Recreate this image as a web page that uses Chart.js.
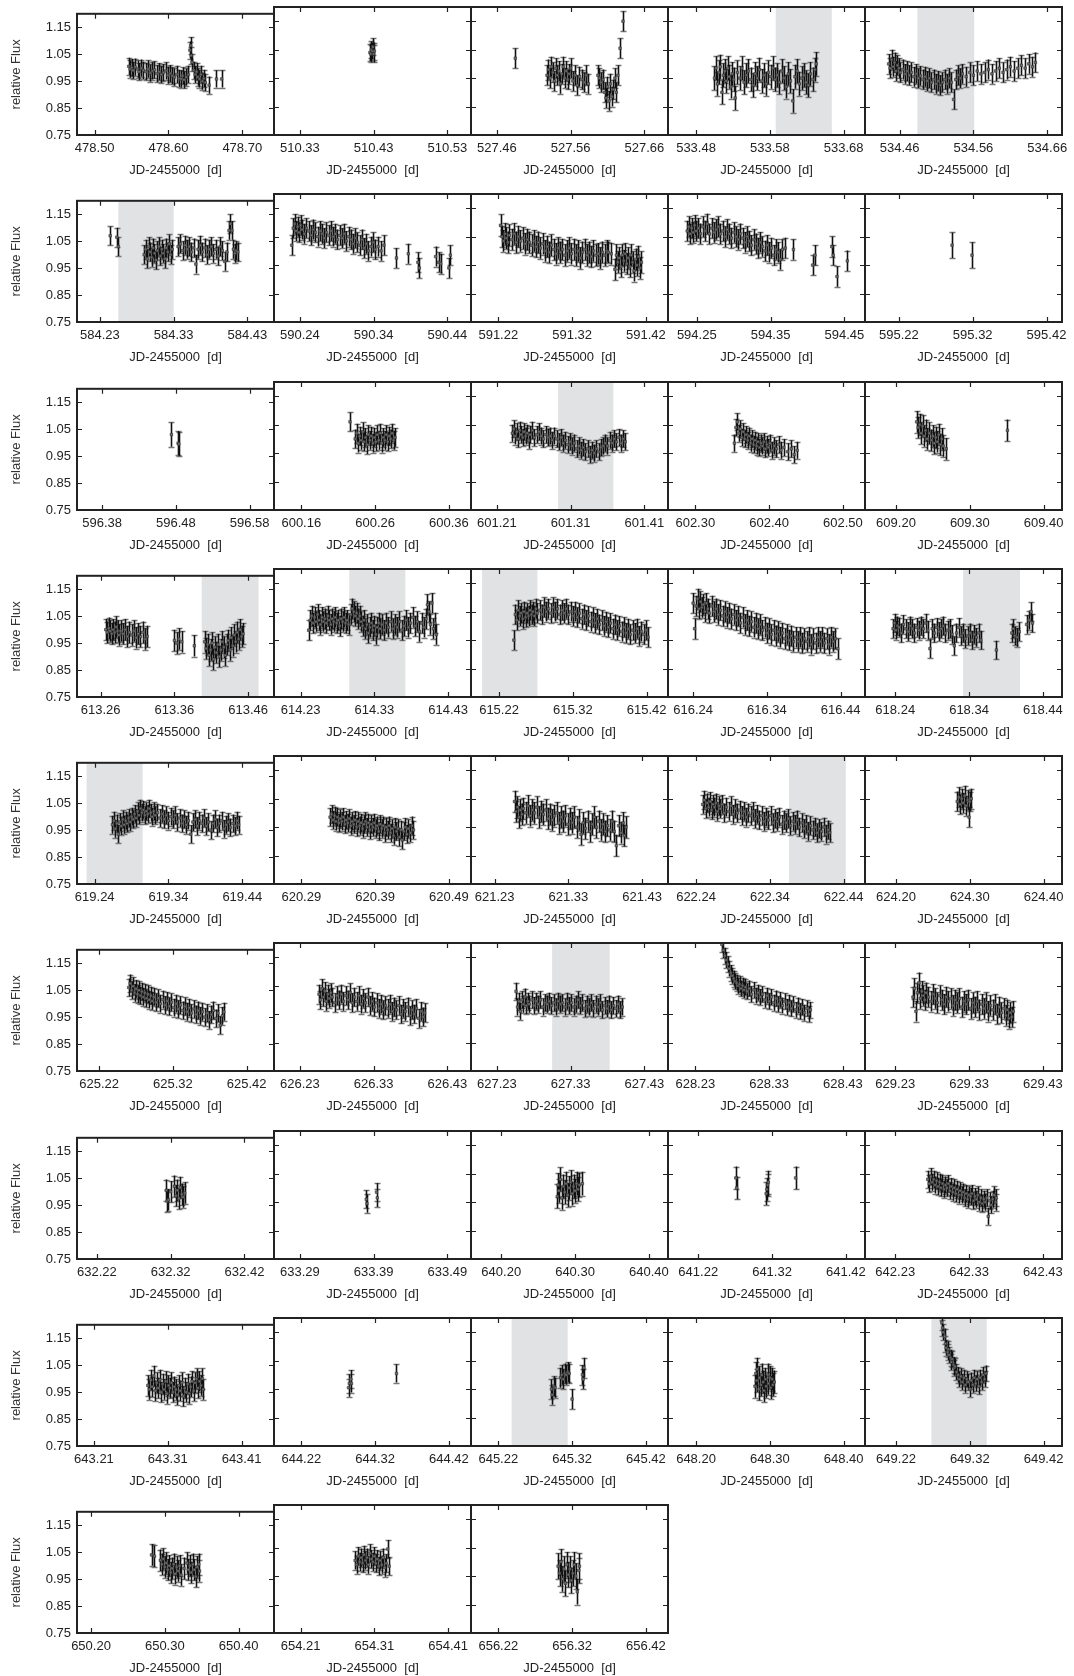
<!DOCTYPE html>
<html>
<head>
<meta charset="utf-8">
<script src="https://cdn.jsdelivr.net/npm/chart.js@4.4.1/dist/chart.umd.min.js"></script>
<style>
  html, body { margin: 0; padding: 0; background: #fff; }
  #wrap { position: relative; width: 1074px; height: 1676px; overflow: hidden; }
  #wrap canvas { position: absolute; }
</style>
</head>
<body>
<div id="wrap"></div>
<script>
// light curves, one per panel: [days after the first labelled tick, relative flux]
const lc01 = [[.046,1.005],[.048,.995],[.050,1.000],[.052,.990],[.055,1.002],[.058,.995],[.060,.985],[.063,.998],[.066,.990],[.069,.985],[.072,.995],[.075,.980],[.078,.988],[.081,.992],[.084,.978],[.087,.985],[.090,.975],[.093,.982],[.096,.988],[.099,.972],[.102,.978],[.105,.970],[.108,.965],[.111,.975],[.114,.960],[.117,.958],[.119,.970],[.121,.955],[.124,.965],[.127,.975],[.129,1.065],[.130,1.082],[.131,1.045],[.132,1.020],[.134,.990],[.136,.975],[.138,.985],[.140,.965],[.142,.958],[.144,.975],[.146,.950],[.148,.960],[.150,.945],[.155,.935],[.165,.958],[.172,.958]];
const lc02 = [[.095,1.040],[.096,1.035],[.097,1.050],[.098,1.045],[.099,1.060],[.100,1.035],[.101,1.045]];
const lc03 = [[.025,1.020],[.068,.960],[.070,.980],[.072,.950],[.074,.990],[.076,.970],[.078,.940],[.080,.985],[.082,.960],[.084,.975],[.086,.930],[.088,.965],[.090,.990],[.092,.950],[.094,.975],[.096,.945],[.098,.965],[.100,.985],[.103,.940],[.106,.960],[.109,.925],[.112,.955],[.115,.945],[.118,.935],[.121,.960],[.124,.930],[.137,.960],[.139,.950],[.141,.935],[.144,.945],[.146,.900],[.148,.880],[.150,.920],[.152,.870],[.154,.930],[.156,.885],[.158,.910],[.160,.950],[.162,.900],[.164,.960],[.167,1.055],[.171,1.150]];
const lc04 = [[.025,.950],[.027,.985],[.029,.930],[.031,.970],[.033,.990],[.035,.900],[.037,.960],[.039,.975],[.041,.940],[.043,.985],[.045,.955],[.047,.920],[.049,.965],[.051,.945],[.053,.880],[.056,.970],[.059,.950],[.062,.985],[.065,.935],[.068,.960],[.071,.975],[.074,.945],[.077,.925],[.080,.965],[.083,.950],[.086,.980],[.089,.940],[.092,.960],[.095,.930],[.098,.970],[.101,.955],[.104,.985],[.107,.945],[.110,.960],[.113,.935],[.116,.975],[.119,.950],[.122,.920],[.125,.965],[.128,.940],[.131,.870],[.134,.955],[.137,.975],[.140,.930],[.143,.950],[.146,.960],[.149,.935],[.152,.925],[.155,.965],[.158,.945],[.161,.980],[.163,1.000]];
const lc05 = [[-.015,1.000],[-.013,.985],[-.011,1.015],[-.009,.990],[-.007,1.005],[-.005,.975],[-.003,.995],[-.001,.985],[.001,.970],[.004,.980],[.007,.965],[.010,.975],[.013,.960],[.016,.970],[.019,.955],[.022,.965],[.025,.950],[.028,.958],[.031,.945],[.034,.955],[.037,.940],[.040,.950],[.043,.935],[.046,.945],[.049,.930],[.052,.940],[.055,.925],[.058,.935],[.061,.945],[.064,.930],[.067,.950],[.070,.935],[.073,.875],[.076,.945],[.079,.960],[.082,.950],[.085,.965],[.090,.955],[.095,.970],[.100,.960],[.105,.975],[.110,.965],[.115,.970],[.120,.980],[.125,.965],[.130,.975],[.135,.985],[.140,.970],[.145,.980],[.150,.990],[.155,.975],[.160,.985],[.165,.995],[.170,.985],[.175,1.000],[.180,.990],[.184,1.005]];
const lc06 = [[.014,1.070],[.023,1.065],[.025,1.030],[.060,1.000],[.062,1.020],[.064,.985],[.066,1.030],[.068,1.010],[.070,.990],[.072,1.025],[.074,1.005],[.076,.980],[.078,1.015],[.080,1.030],[.082,.995],[.084,1.020],[.086,1.005],[.088,.985],[.090,1.025],[.092,1.010],[.094,1.040],[.096,1.000],[.098,1.020],[.106,1.030],[.109,1.040],[.112,1.015],[.115,1.035],[.118,1.020],[.121,1.030],[.124,1.010],[.127,1.025],[.130,.965],[.133,1.020],[.136,1.035],[.139,1.010],[.142,1.025],[.145,1.000],[.148,1.020],[.151,1.030],[.154,1.005],[.157,1.020],[.160,.995],[.163,1.030],[.166,1.015],[.169,.975],[.172,1.010],[.175,1.090],[.177,1.115],[.179,1.090],[.181,1.020],[.183,1.005],[.185,1.015],[.187,1.010]];
const lc07 = [[-.011,1.020],[-.009,1.080],[-.007,1.095],[-.005,1.070],[-.003,1.085],[-.001,1.065],[.001,1.090],[.003,1.075],[.006,1.060],[.009,1.080],[.012,1.070],[.015,1.055],[.018,1.075],[.021,1.065],[.024,1.050],[.027,1.070],[.030,1.060],[.033,1.045],[.036,1.065],[.039,1.055],[.042,1.070],[.045,1.050],[.048,1.060],[.051,1.040],[.054,1.055],[.057,1.045],[.060,1.060],[.063,1.035],[.066,1.050],[.069,1.040],[.072,1.025],[.075,1.045],[.078,1.030],[.081,1.020],[.084,1.040],[.087,1.010],[.090,1.025],[.093,1.000],[.096,1.015],[.099,1.030],[.102,1.005],[.106,1.015],[.110,1.000],[.114,1.020],[.131,.975],[.147,.990],[.160,.960],[.162,.940],[.184,.980],[.188,.960],[.191,.955],[.202,.940],[.204,.985]];
const lc08 = [[.003,1.090],[.005,1.050],[.007,1.035],[.009,1.060],[.011,1.045],[.013,1.030],[.015,1.055],[.018,1.040],[.021,1.060],[.024,1.030],[.027,1.050],[.030,1.035],[.033,1.045],[.036,1.025],[.039,1.040],[.042,1.030],[.045,1.020],[.048,1.035],[.051,1.015],[.054,1.030],[.057,1.010],[.060,1.025],[.063,1.000],[.066,1.015],[.069,.995],[.072,1.020],[.075,1.005],[.078,.990],[.081,1.010],[.084,.995],[.087,1.005],[.090,.985],[.093,1.000],[.096,1.010],[.099,.990],[.102,1.005],[.105,.985],[.108,1.000],[.111,.975],[.114,.995],[.117,1.005],[.120,.985],[.123,.995],[.126,.980],[.129,1.000],[.132,.985],[.135,.990],[.138,.975],[.141,.995],[.144,.985],[.147,1.000],[.149,.995],[.153,.990],[.158,.935],[.160,.985],[.162,.960],[.164,.975],[.166,.945],[.168,.985],[.170,.965],[.172,.990],[.174,.955],[.176,.975],[.178,.945],[.180,.985],[.182,.960],[.184,.930],[.186,.970],[.188,.950],[.190,.980],[.192,.940],[.194,.960]];
const lc09 = [[-.013,1.070],[-.011,1.085],[-.009,1.060],[-.007,1.080],[-.005,1.065],[-.003,1.090],[-.001,1.070],[.002,1.080],[.005,1.060],[.008,1.085],[.011,1.070],[.014,1.095],[.017,1.060],[.020,1.080],[.023,1.065],[.026,1.075],[.029,1.085],[.032,1.060],[.035,1.070],[.038,1.050],[.041,1.075],[.044,1.060],[.047,1.045],[.050,1.065],[.053,1.050],[.056,1.040],[.059,1.060],[.062,1.045],[.065,1.030],[.068,1.050],[.071,1.035],[.074,1.020],[.077,1.040],[.080,1.025],[.083,1.010],[.086,1.030],[.089,1.015],[.092,1.000],[.095,1.020],[.098,.995],[.101,1.010],[.104,.985],[.107,1.005],[.110,.995],[.113,.970],[.116,1.005],[.120,1.010],[.131,1.005],[.157,.950],[.160,.985],[.183,1.015],[.185,.985],[.190,.910],[.204,.965]];
const lc10 = [[.072,1.020],[.099,.985]];
const lc11 = [[.094,1.030],[.103,.998],[.104,.995]];
const lc12 = [[.066,1.060],[.073,1.000],[.075,1.020],[.077,.985],[.079,1.010],[.081,.995],[.083,1.025],[.085,.990],[.087,1.005],[.089,.980],[.091,1.015],[.093,.995],[.095,1.010],[.097,.985],[.099,1.005],[.101,.990],[.103,1.015],[.105,.995],[.107,1.020],[.109,.985],[.111,1.005],[.113,.995],[.115,1.015],[.117,.990],[.119,1.010],[.121,1.000],[.123,1.020],[.125,.995],[.127,1.005]];
const lc13 = [[.021,1.020],[.023,1.035],[.025,1.010],[.027,1.025],[.029,1.000],[.031,1.030],[.033,1.015],[.035,1.005],[.037,1.025],[.039,1.010],[.041,1.020],[.043,.995],[.045,1.015],[.048,1.030],[.051,1.005],[.054,1.015],[.057,1.025],[.060,1.010],[.063,1.000],[.066,1.015],[.069,1.005],[.072,1.010],[.075,.995],[.078,1.010],[.081,1.000],[.084,.990],[.087,1.005],[.090,.985],[.093,.995],[.096,.980],[.099,.990],[.102,.975],[.105,.985],[.108,.965],[.111,.975],[.114,.960],[.117,.970],[.120,.955],[.123,.965],[.126,.945],[.129,.960],[.132,.950],[.135,.965],[.138,.955],[.141,.970],[.144,.975],[.147,.985],[.150,.975],[.153,.995],[.156,.985],[.159,1.000],[.162,.990],[.165,1.005],[.168,.985],[.171,1.000],[.174,.990]];
const lc14 = [[.053,.985],[.055,1.040],[.057,1.060],[.059,1.020],[.061,1.035],[.063,1.005],[.065,1.025],[.067,1.000],[.069,1.015],[.071,.995],[.073,1.010],[.075,.985],[.077,1.000],[.079,.980],[.081,.995],[.083,.975],[.085,.990],[.087,.970],[.089,.985],[.091,.975],[.093,.990],[.095,.965],[.097,.980],[.099,.970],[.101,.985],[.104,.960],[.107,.975],[.110,.965],[.113,.980],[.116,.960],[.120,.970],[.125,.955],[.130,.965],[.134,.945],[.138,.960]];
const lc15 = [[.028,1.060],[.030,1.040],[.032,1.050],[.034,1.020],[.036,1.045],[.038,1.010],[.040,1.030],[.042,1.000],[.045,1.020],[.048,.995],[.050,1.010],[.052,.985],[.054,1.005],[.056,.990],[.058,1.015],[.060,.980],[.062,1.000],[.064,.975],[.068,.965],[.151,1.030]];
const lc16 = [[.007,1.000],[.009,.990],[.011,1.005],[.013,.995],[.015,.985],[.017,1.000],[.019,.990],[.021,1.010],[.023,.995],[.025,.980],[.027,.995],[.030,.985],[.033,1.000],[.036,.975],[.039,.990],[.042,.980],[.045,.995],[.048,.970],[.051,.985],[.054,.975],[.057,.990],[.060,.965],[.063,.975],[.100,.960],[.103,.950],[.106,.965],[.110,.955],[.127,.940],[.141,.955],[.143,.930],[.145,.945],[.147,.905],[.149,.925],[.151,.950],[.153,.890],[.155,.935],[.157,.915],[.159,.945],[.161,.900],[.163,.925],[.165,.955],[.167,.935],[.169,.905],[.171,.945],[.173,.960],[.175,.925],[.177,.970],[.179,.940],[.181,.980],[.183,.955],[.185,.990],[.187,.965],[.189,1.000],[.191,.975],[.193,.985]];
const lc17 = [[.011,.985],[.013,1.020],[.015,1.035],[.017,1.010],[.019,1.030],[.021,1.015],[.023,1.040],[.025,1.020],[.027,1.005],[.029,1.030],[.031,1.015],[.033,1.025],[.035,1.010],[.037,1.035],[.039,1.020],[.041,1.005],[.043,1.025],[.045,1.015],[.047,1.030],[.049,1.010],[.051,1.020],[.053,1.000],[.055,1.025],[.057,1.015],[.059,1.030],[.061,1.010],[.063,1.020],[.065,1.005],[.068,1.040],[.070,1.060],[.072,1.050],[.074,1.035],[.076,1.045],[.078,1.025],[.080,1.035],[.082,1.015],[.084,1.000],[.086,1.020],[.088,.990],[.090,1.005],[.092,.975],[.094,.995],[.096,1.010],[.098,.985],[.100,1.000],[.102,.970],[.104,.995],[.106,1.010],[.108,.990],[.110,1.005],[.113,.985],[.116,1.010],[.119,.995],[.122,1.015],[.125,.990],[.128,1.005],[.131,.995],[.134,1.015],[.137,.985],[.140,1.000],[.143,1.020],[.146,.995],[.149,1.010],[.152,1.030],[.155,1.000],[.158,1.015],[.161,.980],[.164,1.010],[.167,.995],[.170,1.025],[.172,1.075],[.174,1.050],[.176,1.005],[.178,1.080],[.180,.990],[.182,1.010],[.184,.970]];
const lc18 = [[.020,.950],[.022,1.040],[.024,1.020],[.026,1.055],[.028,1.035],[.030,1.045],[.032,1.025],[.034,1.050],[.036,1.030],[.038,1.045],[.040,1.035],[.042,1.055],[.044,1.040],[.046,1.050],[.048,1.035],[.050,1.060],[.052,1.045],[.055,1.055],[.058,1.040],[.061,1.065],[.064,1.050],[.067,1.060],[.070,1.045],[.073,1.065],[.076,1.050],[.079,1.060],[.082,1.040],[.085,1.055],[.088,1.045],[.091,1.060],[.094,1.040],[.097,1.050],[.100,1.035],[.103,1.050],[.106,1.030],[.109,1.045],[.112,1.025],[.115,1.040],[.118,1.020],[.121,1.035],[.124,1.015],[.127,1.030],[.130,1.010],[.133,1.025],[.136,1.005],[.139,1.020],[.142,1.000],[.145,1.015],[.148,.995],[.151,1.010],[.154,.990],[.157,1.005],[.160,.985],[.163,1.000],[.166,.980],[.169,.995],[.172,.975],[.175,.990],[.178,.970],[.181,.985],[.184,.975],[.187,.990],[.190,.965],[.193,.980],[.196,.970],[.199,.985],[.202,.960]];
const lc19 = [[.000,1.080],[.002,.990],[.004,1.070],[.006,1.095],[.008,1.060],[.010,1.085],[.012,1.065],[.014,1.075],[.016,1.050],[.018,1.080],[.020,1.060],[.022,1.045],[.025,1.070],[.028,1.050],[.031,1.060],[.034,1.040],[.037,1.055],[.040,1.035],[.043,1.050],[.046,1.030],[.049,1.045],[.052,1.025],[.055,1.040],[.058,1.020],[.061,1.035],[.064,1.010],[.067,1.030],[.070,1.005],[.073,1.020],[.076,1.000],[.079,1.015],[.082,.995],[.085,1.010],[.088,.990],[.091,1.005],[.094,.985],[.097,.995],[.100,.975],[.103,.990],[.106,.970],[.109,.985],[.112,.965],[.115,.980],[.118,.960],[.121,.975],[.124,.955],[.127,.970],[.130,.950],[.133,.965],[.136,.945],[.139,.960],[.142,.945],[.145,.960],[.148,.940],[.151,.955],[.154,.945],[.157,.960],[.160,.935],[.163,.955],[.166,.940],[.169,.960],[.172,.945],[.175,.960],[.178,.940],[.181,.955],[.184,.935],[.187,.960],[.190,.945],[.193,.955],[.196,.920]];
const lc20 = [[-.003,.990],[-.001,1.010],[.001,.985],[.003,1.000],[.005,.995],[.008,.975],[.011,1.005],[.014,.990],[.017,.980],[.020,1.000],[.023,.990],[.026,.975],[.029,.995],[.032,.985],[.035,1.000],[.038,.990],[.041,1.010],[.044,.985],[.047,.920],[.050,.990],[.053,.975],[.056,.995],[.059,.980],[.062,.990],[.065,1.000],[.068,.975],[.071,.985],[.074,.990],[.077,.970],[.080,.930],[.083,.975],[.086,.995],[.089,.965],[.092,.975],[.095,.955],[.098,.965],[.101,.975],[.104,.950],[.107,.970],[.110,.960],[.113,.975],[.116,.950],[.137,.915],[.158,.975],[.160,.990],[.162,.965],[.165,.960],[.168,.980],[.178,1.005],[.181,1.020],[.184,1.050],[.186,1.010]];
const lc21 = [[.024,.970],[.026,.985],[.028,.955],[.030,.975],[.032,.935],[.034,.980],[.036,.965],[.038,.990],[.040,.970],[.042,.985],[.044,.975],[.046,.995],[.048,.980],[.050,1.000],[.052,.990],[.054,1.010],[.056,.995],[.058,1.020],[.060,1.005],[.062,1.030],[.064,1.015],[.066,1.025],[.068,1.005],[.070,1.020],[.072,1.010],[.074,1.030],[.076,1.015],[.078,1.000],[.080,1.020],[.082,1.005],[.085,1.015],[.088,.995],[.091,1.010],[.094,.990],[.097,1.005],[.100,.985],[.103,1.000],[.106,.990],[.109,1.005],[.112,.980],[.115,.995],[.118,.975],[.121,.990],[.124,.970],[.127,.985],[.130,.935],[.133,.980],[.136,.990],[.139,.965],[.142,.985],[.145,.975],[.148,.995],[.151,.965],[.154,.980],[.157,.950],[.160,.975],[.163,.990],[.166,.960],[.169,.975],[.172,.985],[.175,.955],[.178,.970],[.181,.980],[.184,.960],[.187,.975],[.190,.965],[.193,.985],[.195,.970]];
const lc22 = [[.039,.985],[.041,.995],[.043,.975],[.045,.990],[.047,.970],[.049,.985],[.051,.965],[.053,.980],[.055,.970],[.057,.985],[.059,.960],[.061,.975],[.063,.965],[.065,.980],[.067,.955],[.069,.970],[.071,.960],[.073,.975],[.075,.950],[.077,.970],[.079,.955],[.081,.965],[.083,.945],[.085,.960],[.087,.970],[.089,.950],[.091,.965],[.093,.940],[.095,.960],[.097,.950],[.099,.965],[.101,.945],[.103,.955],[.105,.935],[.107,.960],[.109,.945],[.111,.955],[.113,.930],[.115,.950],[.117,.940],[.119,.955],[.121,.930],[.123,.945],[.125,.920],[.127,.950],[.129,.935],[.131,.945],[.133,.915],[.135,.940],[.137,.905],[.139,.935],[.141,.950],[.143,.925],[.145,.945],[.148,.930],[.150,.955],[.152,.940]];
const lc23 = [[.027,1.040],[.029,1.005],[.031,1.020],[.033,.985],[.035,1.010],[.037,.995],[.039,1.015],[.042,1.000],[.045,1.025],[.048,.990],[.051,1.010],[.054,1.000],[.057,1.020],[.060,.985],[.063,1.005],[.066,.995],[.069,1.010],[.072,.980],[.075,.995],[.078,.975],[.081,.990],[.084,1.000],[.087,.965],[.090,.985],[.093,.970],[.096,.990],[.099,.960],[.102,.980],[.105,.965],[.108,.985],[.111,.950],[.114,.975],[.117,.925],[.120,.965],[.123,.945],[.126,.970],[.129,.935],[.132,.960],[.135,.985],[.138,.950],[.141,.970],[.144,.940],[.147,.960],[.150,.935],[.153,.955],[.156,.940],[.159,.970],[.162,.935],[.165,.885],[.168,.955],[.171,.930],[.174,.965],[.176,.920],[.178,.950]];
const lc24 = [[.009,1.030],[.011,1.045],[.013,1.015],[.015,1.035],[.017,1.020],[.019,1.040],[.021,1.010],[.023,1.030],[.025,1.020],[.027,1.035],[.029,1.005],[.031,1.025],[.033,1.015],[.035,1.030],[.038,1.000],[.041,1.020],[.044,1.005],[.047,1.025],[.050,.995],[.053,1.015],[.056,1.000],[.059,1.010],[.062,.990],[.065,1.005],[.068,.985],[.071,1.000],[.074,.990],[.077,1.005],[.080,.980],[.083,.995],[.086,.975],[.089,.990],[.092,.970],[.095,.985],[.098,.975],[.101,.990],[.104,.965],[.107,.980],[.110,.970],[.113,.985],[.116,.960],[.119,.975],[.122,.965],[.125,.980],[.128,.955],[.131,.970],[.134,.960],[.137,.975],[.140,.950],[.143,.965],[.146,.945],[.149,.960],[.152,.935],[.155,.955],[.158,.940],[.161,.950],[.164,.930],[.167,.945],[.170,.935],[.173,.950],[.176,.925],[.179,.940],[.181,.930]];
const lc25 = [[.083,1.040],[.085,1.055],[.087,1.030],[.089,1.050],[.091,1.035],[.093,1.060],[.095,1.025],[.097,1.045],[.099,.985],[.100,1.040],[.102,1.050]];
const lc26 = [[.040,1.060],[.042,1.075],[.044,1.050],[.046,1.065],[.048,1.040],[.050,1.055],[.052,1.035],[.054,1.050],[.056,1.030],[.058,1.045],[.060,1.025],[.062,1.040],[.064,1.020],[.066,1.035],[.068,1.015],[.070,1.030],[.072,1.010],[.074,1.025],[.077,1.005],[.080,1.020],[.083,1.000],[.086,1.015],[.089,.995],[.092,1.010],[.095,.990],[.098,1.005],[.101,.985],[.104,1.000],[.107,.980],[.110,.995],[.113,.975],[.116,.990],[.119,.970],[.122,.985],[.125,.965],[.128,.980],[.131,.960],[.134,.975],[.137,.955],[.140,.970],[.143,.950],[.146,.965],[.149,.940],[.152,.960],[.155,.975],[.158,.945],[.161,.965],[.164,.920],[.167,.955],[.169,.970]];
const lc27 = [[.026,1.020],[.028,1.000],[.030,1.040],[.032,1.010],[.034,1.030],[.036,.995],[.038,1.020],[.040,1.005],[.042,1.025],[.044,1.010],[.047,.990],[.050,1.015],[.053,1.000],[.056,1.020],[.059,.995],[.062,1.015],[.065,1.000],[.068,1.025],[.071,.990],[.074,1.010],[.077,.995],[.080,1.015],[.083,.985],[.086,1.005],[.089,.990],[.092,1.010],[.095,.980],[.098,.995],[.101,.975],[.104,.990],[.107,.970],[.110,.985],[.113,.965],[.116,.980],[.119,.970],[.122,.985],[.125,.960],[.128,.975],[.131,.965],[.134,.980],[.137,.950],[.140,.970],[.143,.960],[.146,.975],[.149,.945],[.152,.965],[.155,.950],[.158,.970],[.161,.935],[.164,.960],[.167,.940],[.169,.955]];
const lc28 = [[.026,1.030],[.028,.975],[.030,.995],[.032,.960],[.034,1.000],[.036,.985],[.038,1.010],[.040,.980],[.042,.995],[.044,.985],[.047,1.000],[.050,.980],[.053,.995],[.056,.985],[.059,1.000],[.062,.975],[.065,.990],[.068,.985],[.071,.995],[.074,.980],[.077,.990],[.080,.975],[.083,.995],[.086,.985],[.089,.990],[.092,.975],[.095,.995],[.098,.980],[.101,.990],[.104,.975],[.107,.985],[.110,1.000],[.113,.980],[.116,.990],[.119,.970],[.122,.985],[.125,.975],[.128,.990],[.131,.970],[.134,.985],[.137,.975],[.140,.990],[.143,.965],[.146,.980],[.149,.970],[.152,.985],[.155,.965],[.158,.980],[.161,.970],[.164,.985],[.167,.965],[.170,.975]];
const lc29 = [[.036,1.195],[.038,1.175],[.040,1.155],[.042,1.140],[.044,1.125],[.046,1.110],[.048,1.095],[.050,1.085],[.052,1.075],[.054,1.065],[.056,1.060],[.058,1.050],[.060,1.055],[.062,1.040],[.064,1.050],[.066,1.035],[.068,1.045],[.070,1.030],[.073,1.040],[.076,1.020],[.079,1.035],[.082,1.015],[.085,1.025],[.088,1.010],[.091,1.020],[.094,1.000],[.097,1.015],[.100,.995],[.103,1.010],[.106,.990],[.109,1.005],[.112,.985],[.115,1.000],[.118,.980],[.121,.995],[.124,.975],[.127,.990],[.130,.970],[.133,.985],[.136,.965],[.139,.980],[.142,.960],[.145,.975],[.148,.955],[.151,.970],[.154,.950],[.156,.965]];
const lc30 = [[.024,1.010],[.026,1.040],[.028,.960],[.030,1.025],[.032,1.060],[.034,1.005],[.036,1.030],[.038,1.015],[.040,1.000],[.042,1.025],[.045,1.010],[.048,.995],[.051,1.020],[.054,1.005],[.057,.990],[.060,1.015],[.063,1.000],[.066,.985],[.069,1.010],[.072,.995],[.075,1.005],[.078,.980],[.081,1.000],[.084,.990],[.087,1.005],[.090,.975],[.093,.995],[.096,.985],[.099,1.000],[.102,.970],[.105,.990],[.108,.975],[.111,.995],[.114,.965],[.117,.985],[.120,.970],[.123,.990],[.126,.960],[.129,.980],[.132,.965],[.135,.985],[.138,.950],[.141,.975],[.144,.955],[.147,.970],[.150,.945],[.152,.965],[.154,.935],[.156,.955],[.158,.940],[.160,.960]];
const lc31 = [[.094,1.005],[.095,.965],[.097,.970],[.100,1.000],[.105,1.020],[.107,.985],[.109,1.005],[.111,.975],[.113,1.015],[.115,.990],[.117,.980],[.119,.995]];
const lc32 = [[.090,.960],[.091,.945],[.104,.985],[.105,.965]];
const lc33 = [[.076,.970],[.077,1.010],[.078,.990],[.080,1.030],[.082,.965],[.084,1.005],[.086,.985],[.088,1.015],[.090,.975],[.092,1.000],[.094,1.020],[.096,.980],[.098,1.005],[.100,.990],[.102,1.015],[.104,.995],[.106,1.010],[.110,1.015]];
const lc34 = [[.051,1.035],[.052,1.000],[.092,.980],[.093,.995],[.094,1.010],[.095,1.020],[.132,1.035]];
const lc35 = [[.044,1.030],[.046,1.015],[.048,1.040],[.050,1.020],[.052,1.030],[.054,1.010],[.056,1.025],[.058,1.005],[.060,1.020],[.062,1.000],[.064,1.015],[.066,.995],[.068,1.010],[.070,1.000],[.072,1.015],[.074,.990],[.076,1.005],[.078,.985],[.080,1.000],[.082,.980],[.084,.995],[.086,.975],[.088,.990],[.090,.975],[.092,.985],[.094,.965],[.096,.980],[.098,.960],[.100,.975],[.102,.970],[.104,.980],[.106,.955],[.108,.970],[.110,.960],[.112,.975],[.114,.950],[.116,.965],[.118,.945],[.120,.960],[.122,.950],[.124,.965],[.126,.900],[.128,.955],[.130,.940],[.132,.960],[.134,.975],[.136,.950],[.137,.965]];
const lc36 = [[.073,.975],[.075,.960],[.077,.995],[.079,.970],[.081,1.010],[.083,.955],[.085,.985],[.087,.965],[.089,.995],[.091,.950],[.093,.980],[.095,.960],[.097,.990],[.099,.945],[.101,.975],[.103,.965],[.105,.985],[.107,.950],[.109,.970],[.111,.960],[.113,.940],[.115,.975],[.117,.955],[.119,.985],[.121,.935],[.123,.965],[.125,.950],[.127,.980],[.129,.945],[.131,.970],[.133,.990],[.135,.955],[.137,.985],[.139,1.000],[.141,.965],[.143,.990],[.145,.975],[.147,1.000],[.148,.960]];
const lc37 = [[.064,.955],[.065,.970],[.067,.985],[.068,.970],[.129,1.005]];
const lc38 = [[.072,.950],[.073,.930],[.075,.960],[.077,.955],[.084,.990],[.086,1.000],[.088,.985],[.090,1.005],[.092,1.000],[.094,1.010],[.096,1.005],[.100,.915],[.114,1.000],[.115,.985],[.116,1.025]];
const lc39 = [[.080,.960],[.081,1.005],[.082,.980],[.083,1.020],[.085,.950],[.086,.990],[.088,.965],[.089,1.000],[.091,.975],[.092,.945],[.094,.985],[.095,.960],[.097,1.000],[.098,.970],[.100,.990],[.101,.955],[.103,.985],[.104,.965],[.106,.975]];
const lc40 = [[.062,1.185],[.063,1.165],[.064,1.150],[.066,1.135],[.067,1.110],[.068,1.095],[.070,1.080],[.071,1.090],[.072,1.070],[.074,1.060],[.075,1.045],[.076,1.055],[.078,1.035],[.079,1.025],[.080,1.030],[.082,1.010],[.084,1.000],[.086,.985],[.088,.995],[.090,.975],[.092,.990],[.094,.965],[.096,.985],[.098,.975],[.100,.950],[.102,.980],[.104,.965],[.106,.990],[.108,.970],[.110,.985],[.112,.960],[.114,.990],[.116,.975],[.118,1.000],[.120,.985],[.122,1.005]];
const lc41 = [[.082,1.040],[.086,1.035],[.094,1.020],[.096,1.005],[.098,1.025],[.100,.995],[.102,1.010],[.104,.985],[.106,1.000],[.108,.975],[.110,.990],[.112,1.005],[.114,.970],[.116,.995],[.118,.980],[.120,1.000],[.122,.965],[.126,.990],[.130,1.010],[.132,.985],[.134,1.000],[.136,.975],[.138,1.005],[.140,.985],[.142,.960],[.144,.995],[.146,1.005],[.147,.980]];
const lc42 = [[.074,1.005],[.076,.990],[.078,1.020],[.080,1.000],[.082,1.015],[.084,.995],[.086,1.025],[.088,1.005],[.090,1.015],[.092,.990],[.094,1.030],[.096,1.010],[.098,1.000],[.100,1.020],[.102,.995],[.104,1.010],[.106,.985],[.108,1.005],[.110,.990],[.112,1.015],[.114,.980],[.116,.995],[.118,1.045],[.120,.985]];
const lc43 = [[.081,.985],[.083,.960],[.085,1.000],[.087,.940],[.089,.975],[.091,.925],[.093,.990],[.095,.955],[.097,.975],[.099,.935],[.101,.960],[.103,.990],[.105,.950],[.107,.895],[.109,.970],[.110,.985]];

const curves = [lc01, lc02, lc03, lc04, lc05, lc06, lc07, lc08, lc09, lc10,
                lc11, lc12, lc13, lc14, lc15, lc16, lc17, lc18, lc19, lc20,
                lc21, lc22, lc23, lc24, lc25, lc26, lc27, lc28, lc29, lc30,
                lc31, lc32, lc33, lc34, lc35, lc36, lc37, lc38, lc39, lc40,
                lc41, lc42, lc43];

// first labelled tick of each panel (JD-2455000)
const tick0s = [478.50, 510.33, 527.46, 533.48, 534.46,
                584.23, 590.24, 591.22, 594.25, 595.22,
                596.38, 600.16, 601.21, 602.30, 609.20,
                613.26, 614.23, 615.22, 616.24, 618.24,
                619.24, 620.29, 621.23, 622.24, 624.20,
                625.22, 626.23, 627.23, 628.23, 629.23,
                632.22, 633.29, 640.20, 641.22, 642.23,
                643.21, 644.22, 645.22, 648.20, 649.22,
                650.20, 654.21, 656.22];

// left edge of each panel's time axis
const xStarts = [478.476, 510.295, 527.425, 533.442, 534.413,
                 584.199, 590.205, 591.183, 594.211, 595.174,
                 596.346, 600.123, 601.175, 602.263, 609.158,
                 613.228, 614.194, 615.182, 616.206, 618.199,
                 619.216, 620.253, 621.198, 622.202, 624.158,
                 625.190, 626.195, 627.195, 628.193, 629.189,
                 632.193, 633.255, 640.159, 641.179, 642.189,
                 643.187, 644.183, 645.183, 648.162, 649.178,
                 650.181, 654.174, 656.183];
const xSpan = 0.267;

// grey transit windows, days after the first tick (null = none)
const shadeFrom = [null, null, null, .108, .024,
                   .025, null, null, null, null,
                   null, null, .083, null, null,
                   .137, .066, -.023, null, .092,
                   -.011, null, null, .126, null,
                   null, null, .075, null, null,
                   null, null, null, null, null,
                   null, null, .018, null, .048,
                   null, null, null];
const shadeTo = [null, null, null, .184, .101,
                 .100, null, null, null, null,
                 null, null, .158, null, null,
                 .214, .142, .052, null, .169,
                 .065, null, null, .203, null,
                 null, null, .153, null, null,
                 null, null, null, null, null,
                 null, null, .094, null, .123,
                 null, null, null];

// typical half-length of the error bars per panel
const errBars = [.032, .030, .035, .042, .035,
                 .035, .035, .038, .036, .045,
                 .045, .033, .030, .030, .038,
                 .040, .036, .035, .036, .033,
                 .033, .032, .038, .033, .035,
                 .033, .033, .030, .028, .036,
                 .040, .032, .042, .040, .030,
                 .038, .032, .035, .040, .028,
                 .040, .032, .045];

const yTicks = [0.75, 0.85, 0.95, 1.05, 1.15];

const FONT = { family: "'Liberation Sans', Arial, sans-serif", size: 13 };
const INK = '#222';

// error bars, shading, frame and inward tick marks
const lcPlugin = {
  id: 'lc',
  beforeDatasetsDraw(chart) {
    const o = chart.options.plugins.lc;
    const { ctx, chartArea: a } = chart;
    const xs = chart.scales.x, ys = chart.scales.y;
    ctx.save();
    ctx.beginPath();
    ctx.rect(a.left, a.top, a.right - a.left, a.bottom - a.top);
    ctx.clip();
    if (o.shade) {
      const x1 = xs.getPixelForValue(o.shade[0]);
      const x2 = xs.getPixelForValue(o.shade[1]);
      ctx.fillStyle = '#e1e2e4';
      ctx.fillRect(x1, a.top, x2 - x1, a.bottom - a.top);
    }
    const pts = chart.data.datasets[0].data;
    // caps first (grey), then the black bars over them
    ctx.lineWidth = 1.3;
    ctx.strokeStyle = '#777';
    ctx.beginPath();
    pts.forEach(p => {
      const px = Math.round(xs.getPixelForValue(p.x)) + 0.5;
      const lo = Math.round(ys.getPixelForValue(p.y - o.err)) + 0.5;
      const hi = Math.round(ys.getPixelForValue(p.y + o.err)) + 0.5;
      ctx.moveTo(px - 3, lo); ctx.lineTo(px + 3, lo);
      ctx.moveTo(px - 3, hi); ctx.lineTo(px + 3, hi);
    });
    ctx.stroke();
    ctx.strokeStyle = '#111';
    ctx.lineWidth = 1.6;
    ctx.beginPath();
    pts.forEach(p => {
      const px = Math.round(xs.getPixelForValue(p.x)) + 0.5;
      ctx.moveTo(px, ys.getPixelForValue(p.y - o.err));
      ctx.lineTo(px, ys.getPixelForValue(p.y + o.err));
    });
    ctx.stroke();
    ctx.restore();
  },
  afterDraw(chart) {
    const { ctx, chartArea: a } = chart;
    const xs = chart.scales.x, ys = chart.scales.y;
    ctx.save();
    ctx.strokeStyle = INK;
    ctx.lineWidth = 1.2;
    ctx.beginPath();
    xs.ticks.forEach(t => {
      const px = Math.round(xs.getPixelForValue(t.value)) + 0.5;
      ctx.moveTo(px, a.bottom); ctx.lineTo(px, a.bottom - 5);
      ctx.moveTo(px, a.top); ctx.lineTo(px, a.top + 5);
    });
    ys.ticks.forEach(t => {
      const py = Math.round(ys.getPixelForValue(t.value)) + 0.5;
      ctx.moveTo(a.left, py); ctx.lineTo(a.left + 5, py);
      ctx.moveTo(a.right, py); ctx.lineTo(a.right - 5, py);
    });
    ctx.stroke();
    ctx.lineWidth = 2;
    ctx.strokeRect(a.left, a.top, a.right - a.left, a.bottom - a.top);
    ctx.restore();
  }
};

const wrap = document.getElementById('wrap');
const FRAME_W = 197, FRAME_H = 128, LEFT0 = 77, TOP0 = 7, ROW_STEP = 187.25;
const AXIS_W = 77, AXIS_H = 50, PAD_R = 30;

curves.forEach((lc, k) => {
  const row = Math.floor(k / 5), col = k % 5;
  const t0 = tick0s[k];
  const frameLeft = LEFT0 + col * FRAME_W;
  const frameTop = Math.round(TOP0 + row * ROW_STEP);

  const cv = document.createElement('canvas');
  cv.width = AXIS_W + FRAME_W + PAD_R;
  cv.height = TOP0 + FRAME_H + AXIS_H;
  cv.style.left = (frameLeft - AXIS_W) + 'px';
  cv.style.top = (frameTop - TOP0) + 'px';
  wrap.appendChild(cv);

  const pts = lc.map(p => ({ x: t0 + p[0], y: p[1] }));
  const shade = shadeFrom[k] === null ? null : [t0 + shadeFrom[k], t0 + shadeTo[k]];

  new Chart(cv, {
    type: 'scatter',
    data: {
      datasets: [{
        data: pts,
        pointStyle: 'rect',
        pointRadius: 1.8,
        backgroundColor: '#6e6e6e',
        borderColor: '#333',
        borderWidth: 0.6
      }]
    },
    options: {
      responsive: false,
      animation: false,
      events: [],
      layout: { padding: { left: 0, right: PAD_R, top: TOP0, bottom: 0 } },
      plugins: {
        legend: { display: false },
        tooltip: { enabled: false },
        lc: { shade: shade, err: errBars[k] }
      },
      scales: {
        x: {
          type: 'linear',
          min: xStarts[k],
          max: xStarts[k] + xSpan,
          grid: { display: false, drawTicks: false },
          border: { display: false },
          afterBuildTicks: s => { s.ticks = [0, 0.1, 0.2].map(d => ({ value: +(t0 + d).toFixed(2) })); },
          afterFit: s => { s.height = AXIS_H; },
          ticks: {
            font: FONT, color: INK, padding: 6,
            maxRotation: 0, autoSkip: false,
            callback: v => Number(v).toFixed(2)
          },
          title: {
            display: true, text: 'JD-2455000  [d]',
            font: FONT, color: INK,
            padding: { top: 0, bottom: 7 }
          }
        },
        y: {
          min: 0.75,
          max: 1.2,
          grid: { display: false, drawTicks: false },
          border: { display: false },
          afterBuildTicks: s => { s.ticks = yTicks.map(v => ({ value: v })); },
          afterFit: s => { s.width = AXIS_W; },
          ticks: {
            display: col === 0,
            font: FONT, color: INK, padding: 6,
            callback: v => Number(v).toFixed(2)
          },
          title: {
            display: col === 0, text: 'relative Flux',
            font: FONT, color: '#333',
            padding: { top: 9, bottom: 0 }
          }
        }
      }
    },
    plugins: [lcPlugin]
  });
});
</script>
</body>
</html>
